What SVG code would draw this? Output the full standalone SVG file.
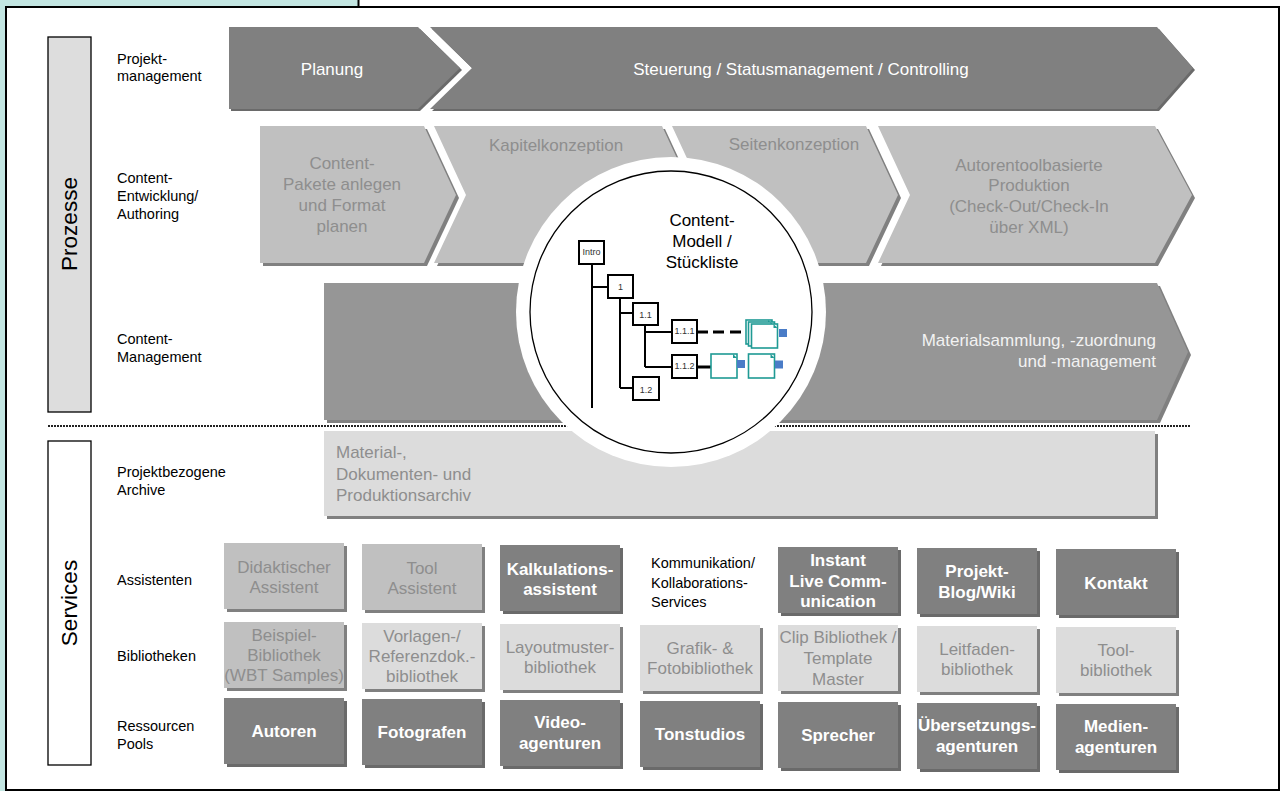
<svg xmlns="http://www.w3.org/2000/svg" width="1286" height="791" viewBox="0 0 1286 791">
<style>
text{font-family:"Liberation Sans",Arial,Helvetica,sans-serif}
.lbl{font-size:14.5px;fill:#000}
.big{font-size:17px;text-anchor:middle}
.w{fill:#ffffff}
.wt{fill:#f2f2f2}
.g{fill:#8e8e8e}
.b{font-weight:bold}
.dk{fill:#808080}
.md{fill:#969696}
.lt{fill:#c0c0c0}
.xl{fill:#dcdcdc}
.shd{fill:#6a6a6a}
.shl{fill:#808080}
.tl{stroke:#000;stroke-width:2;fill:none}
.tb{fill:#fff;stroke:#000;stroke-width:2}
.tt{font-size:9px;fill:#333;text-anchor:middle}
.doc{fill:#fff;stroke:#1f9a94;stroke-width:1.6}
.tab{fill:#4a7cc7}
</style>
<defs>
<g id="docicon">
<rect class="doc" x="0" y="0" width="26" height="24"/>
<path d="M22,0 L26,4 L22,4 Z" fill="#1f9a94"/>
</g>
</defs>

<!-- background and frame -->
<rect x="0" y="0" width="1286" height="791" fill="#ffffff"/>
<rect x="0" y="0" width="359" height="791" fill="#c3e6e2"/>
<line x1="358.5" y1="0" x2="358.5" y2="7" stroke="#000" stroke-width="2"/>
<rect x="6" y="7" width="1273" height="783" fill="#ffffff" stroke="#000" stroke-width="2"/>

<!-- side bars -->
<g id="prozesse">
<rect x="48" y="37" width="43" height="375" fill="#dddddd" stroke="#000" stroke-width="1.3"/>
<text transform="translate(77,224) rotate(-90)" font-size="22.5" text-anchor="middle" fill="#000">Prozesse</text>
</g>
<g id="services">
<rect x="48" y="441" width="43" height="324" fill="#ffffff" stroke="#000" stroke-width="1.3"/>
<text transform="translate(77,603) rotate(-90)" font-size="22.5" text-anchor="middle" fill="#000">Services</text>
</g>

<!-- row labels -->
<g id="labels">
<text class="lbl" x="117" y="64">Projekt-</text>
<text class="lbl" x="117" y="81">management</text>
<text class="lbl" x="117" y="183">Content-</text>
<text class="lbl" x="117" y="201">Entwicklung/</text>
<text class="lbl" x="117" y="219">Authoring</text>
<text class="lbl" x="117" y="344">Content-</text>
<text class="lbl" x="117" y="362">Management</text>
<text class="lbl" x="117" y="477">Projektbezogene</text>
<text class="lbl" x="117" y="494.5">Archive</text>
<text class="lbl" x="117" y="585">Assistenten</text>
<text class="lbl" x="117" y="661">Bibliotheken</text>
<text class="lbl" x="117" y="731">Ressourcen</text>
<text class="lbl" x="117" y="748.5">Pools</text>
</g>

<!-- row 1 -->
<g id="planung">
<polygon class="shd" transform="translate(2,2)" points="229,27 418,27 460,68 418,109 229,109"/>
<polygon class="dk" points="229,27 418,27 460,68 418,109 229,109"/>
<text class="big w" x="332" y="75">Planung</text>
</g>
<g id="steuerung">
<polygon class="shd" transform="translate(2,2)" points="430,27 1157,27 1193,68 1157,109 430,109 472,68"/>
<polygon class="dk" points="430,27 1157,27 1193,68 1157,109 430,109 472,68"/>
<text class="big w" x="801" y="75">Steuerung / Statusmanagement / Controlling</text>
</g>

<!-- row 2 -->
<g id="pakete">
<polygon class="shl" transform="translate(3,3)" points="260,126 424,126 456,195 424,263 260,263"/>
<polygon class="lt" points="260,126 424,126 456,195 424,263 260,263"/>
<text class="big g" x="342" y="169">Content-</text>
<text class="big g" x="342" y="190">Pakete anlegen</text>
<text class="big g" x="342" y="211">und Format</text>
<text class="big g" x="342" y="232">planen</text>
</g>
<g id="kapitel">
<polygon class="shl" transform="translate(3,3)" points="434,126 662,126 694,195 662,263 434,263 466,195"/>
<polygon class="lt" points="434,126 662,126 694,195 662,263 434,263 466,195"/>
<text class="big g" x="556" y="151">Kapitelkonzeption</text>
</g>
<g id="seiten">
<polygon class="shl" transform="translate(3,3)" points="672,126 866,126 898,195 866,263 672,263 704,195"/>
<polygon class="lt" points="672,126 866,126 898,195 866,263 672,263 704,195"/>
<text class="big g" x="794" y="150">Seitenkonzeption</text>
</g>
<g id="autorentool">
<polygon class="shl" transform="translate(3,3)" points="878,126 1155,126 1192,195 1155,263 878,263 910,195"/>
<polygon class="lt" points="878,126 1155,126 1192,195 1155,263 878,263 910,195"/>
<text class="big g" x="1029" y="171">Autorentoolbasierte</text>
<text class="big g" x="1029" y="191">Produktion</text>
<text class="big g" x="1029" y="212">(Check-Out/Check-In</text>
<text class="big g" x="1029" y="233">über XML)</text>
</g>

<!-- row 3 -->
<g id="contentmgmt">
<polygon class="shl" transform="translate(3,3)" points="324,283 1157,283 1188,352 1157,420 324,420"/>
<polygon class="md" points="324,283 1157,283 1188,352 1157,420 324,420"/>
<text class="wt" font-size="17" text-anchor="end" x="1156" y="346">Materialsammlung, -zuordnung</text>
<text class="wt" font-size="17" text-anchor="end" x="1156" y="367">und -management</text>
</g>

<!-- separator -->
<g id="connectors">
<line x1="48" y1="426" x2="1191" y2="426" stroke="#222" stroke-width="2" stroke-dasharray="2,1"/>
</g>

<!-- archive -->
<g id="archiv">
<rect class="shl" x="327" y="434" width="831" height="85"/>
<rect class="xl" x="324" y="431" width="831" height="85"/>
<text class="g" font-size="17" x="336" y="458">Material-,</text>
<text class="g" font-size="17" x="336" y="479.5">Dokumenten- und</text>
<text class="g" font-size="17" x="336" y="501">Produktionsarchiv</text>
</g>

<!-- content model circle -->
<g id="contentmodell">
<circle cx="671" cy="312" r="155" fill="#ffffff"/>
<circle cx="671" cy="312" r="141" fill="#ffffff" stroke="#000" stroke-width="1.3"/>
<text class="big" fill="#000" x="702" y="226">Content-</text>
<text class="big" fill="#000" x="702" y="247">Modell /</text>
<text class="big" fill="#000" x="702" y="268">Stückliste</text>
<!-- tree lines -->
<path class="tl" d="M592,264 V408 M592,287 H608 M620,298 V388 M620,313 H633 M620,388 H633 M645,325 V367 M645,332 H672 M645,367 H672"/>
<rect class="tb" x="579" y="241" width="25" height="23"/>
<text class="tt" font-size="6.5" x="591.5" y="255">Intro</text>
<rect class="tb" x="608" y="275" width="25" height="23"/>
<text class="tt" x="620.5" y="290">1</text>
<rect class="tb" x="633" y="303" width="25" height="22"/>
<text class="tt" font-size="10" x="645.5" y="318">1.1</text>
<rect class="tb" x="633" y="377" width="26" height="23"/>
<text class="tt" font-size="10" x="646" y="392.5">1.2</text>
<rect class="tb" x="672" y="320" width="25" height="23"/>
<text class="tt" font-size="6.5" x="684.5" y="334">1.1.1</text>
<rect class="tb" x="672" y="355" width="25" height="23"/>
<text class="tt" font-size="6.5" x="684.5" y="369">1.1.2</text>
<!-- links to content objects -->
<line x1="697" y1="332" x2="708" y2="332" stroke="#000" stroke-width="3"/>
<line x1="713" y1="332" x2="746" y2="332" stroke="#000" stroke-width="3" stroke-dasharray="11,6"/>
<line x1="697" y1="367" x2="711" y2="367" stroke="#000" stroke-width="3"/>
<!-- stacked docs -->
<use href="#docicon" x="746" y="320"/>
<use href="#docicon" x="748.5" y="322"/>
<use href="#docicon" x="751.5" y="324"/>
<rect class="tab" x="779" y="329" width="8" height="8"/>
<!-- single docs -->
<use href="#docicon" x="711" y="354"/>
<rect class="tab" x="737" y="360" width="8" height="8"/>
<use href="#docicon" x="748.5" y="354"/>
<rect class="tab" x="775" y="360.5" width="8" height="8"/>
</g>

<!-- services: Assistenten row -->
<g id="didaktisch">
<rect class="shl" x="227" y="546" width="120" height="66"/>
<rect class="lt" x="224" y="543" width="120" height="66"/>
<text class="big g" x="284" y="573">Didaktischer</text>
<text class="big g" x="284" y="593">Assistent</text>
</g>
<g id="toolassist">
<rect class="shl" x="365" y="547" width="120" height="66"/>
<rect class="lt" x="362" y="544" width="120" height="66"/>
<text class="big g" x="422" y="574">Tool</text>
<text class="big g" x="422" y="594">Assistent</text>
</g>
<g id="kalkulation">
<rect class="shd" x="503" y="548" width="120" height="66"/>
<rect class="dk" x="500" y="545" width="120" height="66"/>
<text class="big w b" x="560" y="575">Kalkulations-</text>
<text class="big w b" x="560" y="595">assistent</text>
</g>
<g id="kommunikation">
<text class="lbl" x="651" y="568">Kommunikation/</text>
<text class="lbl" x="651" y="588">Kollaborations-</text>
<text class="lbl" x="651" y="607">Services</text>
</g>
<g id="instant">
<rect class="shd" x="781" y="550" width="120" height="66"/>
<rect class="dk" x="778" y="547" width="120" height="66"/>
<text class="big w b" x="838" y="566">Instant</text>
<text class="big w b" x="838" y="586.5">Live Comm-</text>
<text class="big w b" x="838" y="607">unication</text>
</g>
<g id="blogwiki">
<rect class="shd" x="920" y="551" width="120" height="66"/>
<rect class="dk" x="917" y="548" width="120" height="66"/>
<text class="big w b" x="977" y="577">Projekt-</text>
<text class="big w b" x="977" y="598">Blog/Wiki</text>
</g>
<g id="kontakt">
<rect class="shd" x="1059" y="552" width="120" height="66"/>
<rect class="dk" x="1056" y="549" width="120" height="66"/>
<text class="big w b" x="1116" y="588.5">Kontakt</text>
</g>

<!-- services: Bibliotheken row -->
<g id="beispiel">
<rect class="shl" x="227" y="625" width="120" height="66"/>
<rect class="lt" x="224" y="622" width="120" height="66"/>
<text class="big g" x="284" y="641">Beispiel-</text>
<text class="big g" x="284" y="661">Bibliothek</text>
<text class="big g" x="284" y="681">(WBT Samples)</text>
</g>
<g id="vorlagen">
<rect class="shl" x="365" y="626" width="120" height="66"/>
<rect class="xl" x="362" y="623" width="120" height="66"/>
<text class="big g" x="422" y="642">Vorlagen-/</text>
<text class="big g" x="422" y="662">Referenzdok.-</text>
<text class="big g" x="422" y="682">bibliothek</text>
</g>
<g id="layoutmuster">
<rect class="shl" x="503" y="627" width="120" height="66"/>
<rect class="xl" x="500" y="624" width="120" height="66"/>
<text class="big g" x="560" y="653">Layoutmuster-</text>
<text class="big g" x="560" y="673">bibliothek</text>
</g>
<g id="grafik">
<rect class="shl" x="643" y="628" width="120" height="66"/>
<rect class="xl" x="640" y="625" width="120" height="66"/>
<text class="big g" x="700" y="654">Grafik- &amp;</text>
<text class="big g" x="700" y="674">Fotobibliothek</text>
</g>
<g id="clip">
<rect class="shl" x="781" y="628" width="120" height="66"/>
<rect class="xl" x="778" y="625" width="120" height="66"/>
<text class="big g" x="838" y="643">Clip Bibliothek /</text>
<text class="big g" x="838" y="664">Template</text>
<text class="big g" x="838" y="685">Master</text>
</g>
<g id="leitfaden">
<rect class="shl" x="920" y="629" width="120" height="66"/>
<rect class="xl" x="917" y="626" width="120" height="66"/>
<text class="big g" x="977" y="655">Leitfaden-</text>
<text class="big g" x="977" y="675">bibliothek</text>
</g>
<g id="toolbib">
<rect class="shl" x="1059" y="630" width="120" height="66"/>
<rect class="xl" x="1056" y="627" width="120" height="66"/>
<text class="big g" x="1116" y="656">Tool-</text>
<text class="big g" x="1116" y="676">bibliothek</text>
</g>

<!-- services: Ressourcen row -->
<g id="autoren">
<rect class="shd" x="227" y="701" width="120" height="66"/>
<rect class="dk" x="224" y="698" width="120" height="66"/>
<text class="big w b" x="284" y="737">Autoren</text>
</g>
<g id="fotografen">
<rect class="shd" x="365" y="702" width="120" height="66"/>
<rect class="dk" x="362" y="699" width="120" height="66"/>
<text class="big w b" x="422" y="738">Fotografen</text>
</g>
<g id="video">
<rect class="shd" x="503" y="703" width="120" height="66"/>
<rect class="dk" x="500" y="700" width="120" height="66"/>
<text class="big w b" x="560" y="728">Video-</text>
<text class="big w b" x="560" y="749">agenturen</text>
</g>
<g id="tonstudios">
<rect class="shd" x="643" y="704" width="120" height="66"/>
<rect class="dk" x="640" y="701" width="120" height="66"/>
<text class="big w b" x="700" y="740">Tonstudios</text>
</g>
<g id="sprecher">
<rect class="shd" x="781" y="705" width="120" height="66"/>
<rect class="dk" x="778" y="702" width="120" height="66"/>
<text class="big w b" x="838" y="741">Sprecher</text>
</g>
<g id="uebersetzung">
<rect class="shd" x="920" y="706" width="120" height="66"/>
<rect class="dk" x="917" y="703" width="120" height="66"/>
<text class="big w b" x="977" y="731">Übersetzungs-</text>
<text class="big w b" x="977" y="752">agenturen</text>
</g>
<g id="medien">
<rect class="shd" x="1059" y="707" width="120" height="66"/>
<rect class="dk" x="1056" y="704" width="120" height="66"/>
<text class="big w b" x="1116" y="732">Medien-</text>
<text class="big w b" x="1116" y="753">agenturen</text>
</g>
</svg>
